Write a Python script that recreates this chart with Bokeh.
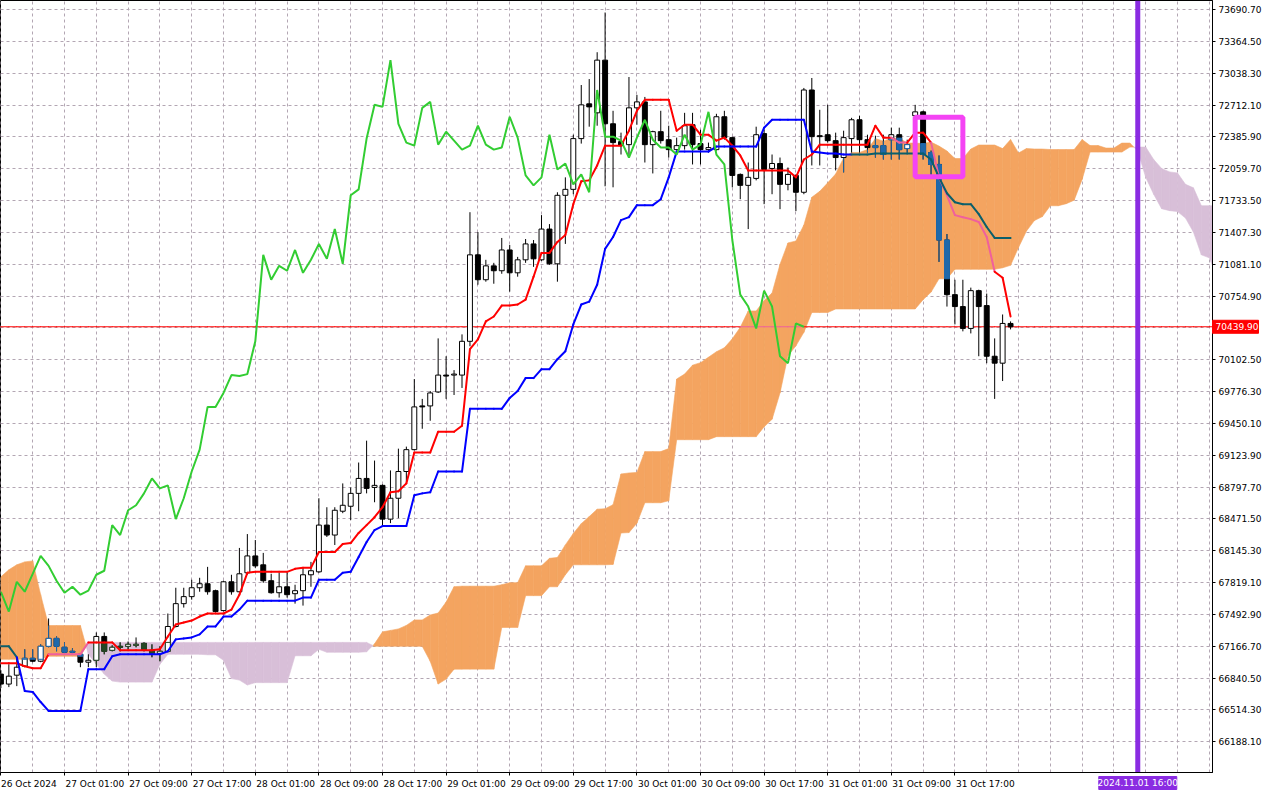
import numpy as np
from bokeh.plotting import figure
from bokeh.models import Range1d, FixedTicker, NumeralTickFormatter
from bokeh.core.properties import value
from bokeh.embed import file_html
from bokeh.resources import INLINE

# ---------------- data (H1 candles, 26 Oct 2024 17:00 .. 1 Nov 2024 00:00) ----------------
open_ = [66881, 66779, 66870, 66962, 67043, 67013, 67166, 67247, 67156, 67115,
         67084, 67003, 67023, 67267, 67125, 67166, 67166, 67176, 67196, 67125,
         67094, 67115, 67369, 67603, 67675, 67766, 67807, 67736, 67532, 67827,
         67725, 67919, 68092, 68001, 67838, 67715, 67776, 67705, 67736, 67899,
         67929, 68408, 68306, 68550, 68601, 68733, 68886, 68794, 68815, 68469,
         68683, 68957, 69181, 69629, 69629, 69772, 69945, 69945, 69945, 70291,
         71177, 70922, 71064, 71014, 71227, 70993, 71126, 71289, 71126, 71441,
         71085, 71787, 71848, 72368, 72724, 72632, 73172, 72520, 72337, 72306,
         72683, 72744, 72306, 72439, 72357, 72255, 72296, 72510, 72317, 72255,
         72255, 72592, 72378, 72001, 71889, 71960, 72419, 72062, 72113, 71899,
         71991, 71818, 72866, 72398, 72408, 72347, 72174, 72368, 72561, 72357,
         72296, 72296, 72357, 72408, 72266, 72602, 72642, 72225, 72103, 71329,
         70769, 70647, 70423, 70810, 70657, 70138, 70067, 70474]
high_ = [66921, 66982, 67054, 67135, 67135, 67186, 67451, 67267, 67206, 67145,
         67094, 67084, 67308, 67308, 67176, 67206, 67216, 67257, 67206, 67186,
         67166, 67502, 67766, 67766, 67848, 67868, 67980, 67746, 67838, 67899,
         68174, 68316, 68255, 68123, 67909, 67919, 67919, 67797, 67970, 68031,
         68683, 68591, 68591, 68835, 68794, 69049, 69273, 69069, 68825, 68968,
         69191, 69212, 69904, 69701, 69782, 70321, 70138, 69996, 70362, 71614,
         71411, 71126, 71095, 71350, 71278, 71156, 71339, 71329, 71584, 71492,
         71818, 71971, 72408, 72917, 72978, 73253, 73660, 72653, 72429, 72999,
         72816, 72795, 72449, 72653, 72500, 72378, 72632, 72632, 72459, 72327,
         72622, 72653, 72388, 72011, 72123, 72490, 72459, 72205, 72174, 72072,
         72001, 72887, 72989, 72663, 72714, 72429, 72449, 72581, 72602, 72408,
         72398, 72408, 72480, 72480, 72357, 72714, 72653, 72245, 72195, 71390,
         70922, 70922, 70841, 70820, 70780, 70321, 70566, 70495]
low_ = [66738, 66748, 66758, 66952, 67003, 67003, 67156, 67115, 67094, 67084,
        66952, 66952, 66952, 67084, 67115, 67115, 67135, 67156, 67115, 67054,
        67013, 67105, 67359, 67563, 67644, 67725, 67695, 67512, 67522, 67695,
        67715, 67899, 67970, 67817, 67705, 67665, 67665, 67603, 67583, 67776,
        67919, 68286, 68204, 68530, 68459, 68550, 68733, 68642, 68398, 68428,
        68479, 68845, 69171, 69395, 69477, 69762, 69701, 69741, 69813, 70240,
        70871, 70902, 70881, 70983, 70800, 70953, 71095, 71054, 71115, 71075,
        70902, 71289, 71798, 72317, 72490, 72500, 71879, 71869, 72205, 72195,
        72510, 72123, 72011, 72317, 72174, 72245, 72255, 72103, 72103, 72225,
        72245, 72357, 71869, 71747, 71441, 71940, 71696, 71798, 71645, 71838,
        71625, 71798, 72093, 72093, 72327, 72042, 72022, 72225, 72225, 72225,
        72174, 72154, 72154, 72154, 72225, 72592, 72154, 71991, 71105, 70647,
        70464, 70393, 70372, 70138, 70067, 69701, 69884, 70413]
close_ = [66779, 66860, 66952, 67043, 67013, 67166, 67247, 67166, 67105, 67105,
          67003, 67023, 67267, 67115, 67156, 67156, 67186, 67186, 67135, 67084,
          67115, 67369, 67603, 67675, 67766, 67807, 67725, 67522, 67827, 67725,
          67909, 68092, 67990, 67838, 67715, 67776, 67695, 67736, 67899, 67940,
          68408, 68306, 68560, 68611, 68733, 68886, 68784, 68815, 68469, 68683,
          68957, 69181, 69619, 69619, 69762, 69945, 69935, 69955, 70291, 71177,
          70922, 71064, 71014, 71227, 70993, 71126, 71289, 71136, 71441, 71085,
          71787, 71848, 72368, 72714, 72693, 73172, 72520, 72327, 72296, 72683,
          72744, 72306, 72439, 72347, 72255, 72296, 72500, 72306, 72255, 72276,
          72592, 72378, 71991, 71889, 71971, 72408, 72052, 72113, 71899, 72001,
          71818, 72866, 72388, 72388, 72347, 72174, 72378, 72561, 72357, 72276,
          72276, 72205, 72408, 72255, 72306, 72642, 72205, 72103, 71329, 70769,
          70647, 70423, 70810, 70647, 70138, 70067, 70474, 70439.9]

tenkan = [66992, 66992, 66992, 66962, 66942, 66942, 67084, 67084, 67084, 67084,
          67084, 67206, 67206, 67206, 67206, 67125, 67125, 67125, 67125, 67125,
          67135, 67267, 67390, 67410, 67430, 67471, 67502, 67502, 67502, 67542,
          67695, 67919, 67929, 67929, 67929, 67929, 67929, 67960, 67970, 67970,
          68133, 68133, 68133, 68214, 68224, 68327, 68408, 68489, 68591, 68744,
          68754, 68835, 69151, 69151, 69151, 69365, 69365, 69365, 69426, 70210,
          70311, 70495, 70545, 70657, 70657, 70668, 70718, 70953, 71197, 71197,
          71309, 71380, 71696, 71930, 71940, 72093, 72296, 72296, 72296, 72449,
          72653, 72765, 72765, 72765, 72765, 72449, 72510, 72510, 72408, 72408,
          72347, 72378, 72296, 72195, 72042, 72042, 72042, 72042, 72042, 72042,
          71971, 72154, 72205, 72306, 72306, 72306, 72306, 72306, 72306, 72306,
          72500, 72378, 72378, 72327, 72327, 72429, 72429, 72327, 71971, 71787,
          71584, 71563, 71543, 71513, 71360, 71004, 70942, 70545]
kijun = [67166, 67166, 67054, 66708, 66698, 66595, 66504, 66504, 66504, 66504,
         66504, 66932, 66932, 66932, 67064, 67084, 67084, 67084, 67084, 67084,
         67084, 67115, 67237, 67247, 67257, 67288, 67369, 67369, 67471, 67471,
         67542, 67634, 67634, 67634, 67634, 67634, 67634, 67634, 67665, 67665,
         67848, 67848, 67848, 67919, 67929, 68082, 68235, 68357, 68398, 68398,
         68398, 68398, 68713, 68733, 68744, 68957, 68957, 68957, 68957, 69599,
         69599, 69599, 69599, 69599, 69711, 69782, 69914, 69914, 70006, 70006,
         70108, 70189, 70464, 70668, 70698, 70871, 71238, 71360, 71533, 71563,
         71686, 71686, 71686, 71747, 71971, 72235, 72235, 72235, 72235, 72235,
         72286, 72286, 72286, 72286, 72286, 72286, 72480, 72561, 72561, 72561,
         72561, 72561, 72235, 72225, 72215, 72215, 72205, 72205, 72205, 72205,
         72215, 72215, 72215, 72215, 72215, 72215, 72215, 72154, 71971, 71808,
         71716, 71696, 71696, 71594, 71462, 71350, 71350, 71350]

# Senkou spans, plotted 26 bars ahead (bar 0 .. bar 153)
span_a = [67878, 67950, 68001, 68031, 68041, 67695, 67379, 67379, 67379, 67379,
          67379, 67084, 66982, 66881, 66810, 66799, 66799, 66799, 66799, 66799,
          66982, 67084, 67084, 67084, 67084, 67084,
          67079, 67079, 67023, 66835, 66820, 66769, 66794, 66794, 66794, 66794,
          66794, 67069, 67069, 67069, 67135, 67105, 67105, 67105, 67105, 67105,
          67110, 67191, 67314, 67329, 67344, 67380, 67436, 67436, 67487, 67507,
          67619, 67777, 67782, 67782, 67782, 67782, 67782, 67797, 67818, 67818,
          67991, 67991, 67991, 68067, 68077, 68205, 68322, 68423, 68495, 68571,
          68576, 68617, 68932, 68942, 68948, 69161, 69161, 69161, 69192, 69905,
          69955, 70047, 70072, 70128, 70184, 70225, 70316, 70434, 70602, 70602,
          70709, 70785, 71080, 71299, 71319, 71482, 71767, 71828, 71915, 72006,
          72170, 72226, 72226, 72256, 72368, 72342, 72373, 72373, 72322, 72322,
          72317, 72332, 72291, 72241, 72164, 72164, 72261, 72302, 72302, 72302,
          72266, 72358, 72220, 72266, 72261, 72261, 72256, 72256, 72256, 72256,
          72358, 72297, 72297, 72271, 72271, 72322, 72322, 72241, 71971, 71798,
          71650, 71630, 71620, 71554, 71411, 71177, 71146, 70948]
span_b = [67033, 67033, 67033, 67033, 67033, 67033, 67064, 67064, 67064, 67064,
          67064, 67206, 67206, 67206, 67206, 67206, 67206, 67206, 67206, 67206,
          67206, 67206, 67206, 67206, 67206, 67206, 67206, 67206, 67206, 67206,
          67206, 67206, 67206, 67206, 67206, 67206, 67206, 67206, 67206, 67206,
          67206, 67206, 67206, 67206, 67206, 67206, 67206, 67166, 67166, 67166,
          67166, 67166, 67166, 67166, 67013, 66779, 66830, 66932, 66932, 66932,
          66932, 66932, 66932, 67359, 67359, 67359, 67685, 67685, 67685, 67776,
          67776, 67899, 68001, 68001, 68001, 68001, 68001, 68005, 68327, 68331,
          68428, 68637, 68637, 68637, 68657, 69283, 69283, 69283, 69283, 69283,
          69314, 69314, 69314, 69314, 69314, 69314, 69415, 69492, 69762, 70143,
          70245, 70383, 70586, 70586, 70586, 70622, 70622, 70622, 70622, 70622,
          70622, 70622, 70622, 70622, 70622, 70622, 70718, 70795, 70932, 70932,
          71029, 71029, 71029, 71029, 71029, 71029, 71044, 71070, 71253, 71421,
          71528, 71569, 71680, 71680, 71701, 71737, 71950, 72230, 72230, 72230,
          72230, 72230, 72281, 72281, 72281, 72154, 72062, 72027, 72016, 71899,
          71864, 71680, 71680, 71680]

chikou_shift = 26
last_price = 70439.90
price_ticks = [73690.70, 73364.50, 73038.30, 72712.10, 72385.90, 72059.70, 71733.50, 71407.30,
               71081.10, 70754.90, 70428.70, 70102.50, 69776.30, 69450.10, 69123.90, 68797.70,
               68471.50, 68145.30, 67819.10, 67492.90, 67166.70, 66840.50, 66514.30, 66188.10]
hidden_tick = 70428.70
time_bars = [0, 8, 16, 24, 32, 40, 48, 56, 64, 72, 80, 88, 96, 104, 112, 120]
time_labels = ["26 Oct 2024", "27 Oct 01:00", "27 Oct 09:00", "27 Oct 17:00", "28 Oct 01:00",
               "28 Oct 09:00", "28 Oct 17:00", "29 Oct 01:00", "29 Oct 09:00", "29 Oct 17:00",
               "30 Oct 01:00", "30 Oct 09:00", "30 Oct 17:00", "31 Oct 01:00", "31 Oct 09:00",
               "31 Oct 17:00"]
vline_bar = 143
vline_label = "2024.11.01 16:00"
box_left, box_right, box_top, box_bottom = 115, 121, 72587, 71976

# ---------------- styling ----------------
ORANGE = "#F4A460"
THISTLE = "#D8BFD8"
RED = "#FF0000"
PINK = "#F0609C"
BLUE = "#0000FF"
TEAL = "#0B5F6B"
GREEN = "#32CD32"
C_IN_UP = "#1F68AA"
C_IN_DN = "#264626"
GRID = "#B3A6B3"
VIOLET = "#8A2BE2"
FONT = "DejaVu Sans"
FS = "9px"
FRAME_W, FRAME_H = 1212, 772
X0, X1 = -0.05, 152.4
Y0, Y1 = 65873, 73783
XPP = (X1 - X0) / FRAME_W   # data units per pixel
YPP = (Y1 - Y0) / FRAME_H

O = np.array(open_, float); H = np.array(high_, float)
L = np.array(low_, float); C = np.array(close_, float)
n = len(C)
bars = np.arange(n)
A = np.array(span_a, float); B = np.array(span_b, float)
cx = np.arange(len(A))

p = figure(frame_width=FRAME_W, frame_height=FRAME_H, output_backend="svg", toolbar_location=None,
           x_range=Range1d(X0, X1), y_range=Range1d(Y0, Y1),
           y_axis_location="right", min_border_left=0, min_border_top=0,
           min_border_right=0, min_border_bottom=0)
p.background_fill_color = "white"
p.border_fill_color = "white"
p.outline_line_color = "black"
p.outline_line_width = 1

# grid
p.xgrid.ticker = FixedTicker(ticks=list(range(0, 153, 4)))
p.ygrid.ticker = FixedTicker(ticks=price_ticks)
for g in (p.xgrid, p.ygrid):
    g.grid_line_color = GRID
    g.grid_line_dash = "3 3"
    g.grid_line_width = 1

# y axis (right)
ya = p.yaxis[0]
ya.ticker = FixedTicker(ticks=[t for t in price_ticks if t != hidden_tick])
ya.formatter = NumeralTickFormatter(format="0.00")
ya.major_tick_out = 3
ya.major_tick_in = 0
ya.minor_tick_line_color = None
ya.major_label_standoff = 3
ya.major_label_text_font = FONT
ya.major_label_text_font_size = FS
ya.major_label_text_color = "black"
ya.axis_line_color = "black"

# x axis: labels start at their tick (as in the terminal), so centre them right of the tick
centers = []
overrides = {}
for b, t in zip(time_bars, time_labels):
    half = (len(t) * 4.9) / 2.0 + 1.0
    c = round(b + half * XPP, 2)
    centers.append(c)
    overrides[c] = t
xa = p.xaxis[0]
xa.ticker = FixedTicker(ticks=centers, minor_ticks=time_bars)
xa.major_label_overrides = overrides
xa.major_tick_line_color = None
xa.major_tick_out = 0
xa.major_tick_in = 0
xa.minor_tick_line_color = "black"
xa.minor_tick_out = 3
xa.minor_tick_in = 0
xa.major_label_standoff = 3
xa.major_label_text_font = FONT
xa.major_label_text_font_size = FS
xa.major_label_text_color = "black"
xa.axis_line_color = "black"

# ---------------- cloud ----------------
xs_o, ys_o, cols_o = [], [], []
for k in range(len(A) - 1):
    a0, a1, b0, b1 = A[k], A[k + 1], B[k], B[k + 1]
    d0, d1 = a0 - b0, a1 - b1
    if d0 * d1 >= 0:
        xs_o.append([k, k + 1, k + 1, k]); ys_o.append([a0, a1, b1, b0])
        cols_o.append(ORANGE if (d0 + d1) > 0 else THISTLE)
    else:
        t = d0 / (d0 - d1)
        xc = k + t; yc = a0 + t * (a1 - a0)
        xs_o.append([k, xc, k]); ys_o.append([a0, yc, b0]); cols_o.append(ORANGE if d0 > 0 else THISTLE)
        xs_o.append([xc, k + 1, k + 1]); ys_o.append([yc, a1, b1]); cols_o.append(ORANGE if d1 > 0 else THISTLE)
p.patches(xs=xs_o, ys=ys_o, fill_color=cols_o, line_color=cols_o, line_width=0.6)


def in_orange(xm, ym):
    a = np.interp(xm, cx, A); b = np.interp(xm, cx, B)
    return (a > b) & (ym <= a) & (ym >= b)


def draw_line(xs, ys, base, alt, width):
    xs = np.asarray(xs, float); ys = np.asarray(ys, float)
    x0, x1, y0, y1 = xs[:-1], xs[1:], ys[:-1], ys[1:]
    inside = in_orange((x0 + x1) / 2, (y0 + y1) / 2)
    cols = [alt if f else base for f in inside]
    p.segment(x0=x0, y0=y0, x1=x1, y1=y1, line_color=cols, line_width=width, line_cap="round")


# current price line
px = np.arange(-1, len(A) + 1)
draw_line(px, np.full(len(px), last_price), RED, PINK, 1)

# ---------------- candles ----------------
bull = C >= O
top = np.maximum(O, C); bot = np.minimum(O, C)
p.segment(x0=bars, y0=L, x1=bars, y1=H, line_color="black", line_width=1)
p.vbar(x=bars, width=0.62, top=top, bottom=bot,
       fill_color=["white" if u else "black" for u in bull], line_color="black", line_width=1)

# parts of candles lying inside the cloud change colour
wx, wt, wb, wc = [], [], [], []
bx, bt, bb, bf, bl = [], [], [], [], []
for i in range(n):
    a, b = A[i], B[i]
    lo, hi = min(a, b), max(a, b)
    col = C_IN_UP if a > b else C_IN_DN
    t1, b1 = min(H[i], hi), max(L[i], lo)
    if t1 > b1:
        wx.append(i); wt.append(t1); wb.append(b1); wc.append(col)
    t2, b2 = min(top[i], hi), max(bot[i], lo)
    if t2 > b2 or (top[i] == bot[i] and lo <= top[i] <= hi):
        bx.append(i); bt.append(t2); bb.append(b2)
        bf.append("white" if bull[i] else col); bl.append(col)
p.segment(x0=wx, y0=wb, x1=wx, y1=wt, line_color=wc, line_width=1)
p.vbar(x=bx, width=0.62, top=bt, bottom=bb, fill_color=bf, line_color=bl, line_width=1)

# ---------------- Ichimoku lines ----------------
draw_line(bars, tenkan, RED, PINK, 2)
draw_line(bars, kijun, BLUE, TEAL, 2)
chikou = C[chikou_shift:]
p.line(x=bars[:len(chikou)], y=chikou, line_color=GREEN, line_width=2)

# ---------------- objects ----------------
p.quad(left=[box_left], right=[box_right], top=[box_top], bottom=[box_bottom],
       fill_color=None, line_color="#F444F4", line_width=5)
p.segment(x0=[vline_bar], y0=[Y0], x1=[vline_bar], y1=[Y1], line_color=VIOLET, line_width=5)

# ---------------- tags in the margins (overlay level, not clipped to the frame) ----------------
tags = []
tags.append(p.quad(left=[X1], right=[X1 + 46 * XPP],
                   bottom=[last_price - 6.5 * YPP], top=[last_price + 6.5 * YPP],
                   fill_color=RED, line_color=RED))
tags.append(p.text(x=[X1 + 3 * XPP], y=[last_price], text=["%.2f" % last_price],
                   text_color="white", text_font=value(FONT), text_font_size=value(FS),
                   text_align="left", text_baseline="middle"))
tags.append(p.quad(left=[vline_bar - 39 * XPP], right=[vline_bar + 39 * XPP],
                   top=[Y0 - 4 * YPP], bottom=[Y0 - 17 * YPP],
                   fill_color=VIOLET, line_color=VIOLET))
tags.append(p.text(x=[vline_bar], y=[Y0 - 10.5 * YPP], text=[vline_label],
                   text_color="white", text_font=value(FONT), text_font_size=value(FS),
                   text_align="center", text_baseline="middle"))
for r in tags:
    r.level = "overlay"

open("out.html", "w").write(file_html(p, INLINE, title="BTCUSD H1 Ichimoku"))
